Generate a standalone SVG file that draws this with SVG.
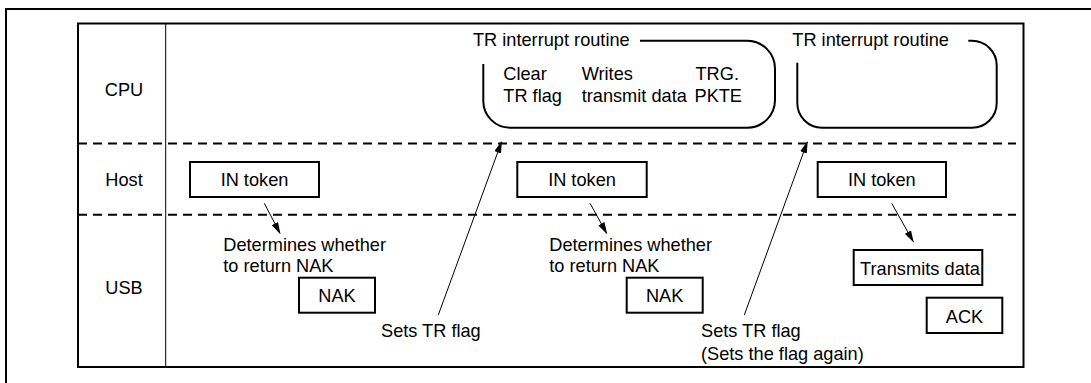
<svg xmlns="http://www.w3.org/2000/svg" width="1091" height="383" viewBox="0 0 1091 383">
<style>
text{font-family:"Liberation Sans",Arial,sans-serif;font-size:18.2px;fill:#000}
.c{text-anchor:middle}
.box{fill:#fff;stroke:#000;stroke-width:2}
.br{fill:none;stroke:#000;stroke-width:2}
.dash{stroke:#000;stroke-width:2;stroke-dasharray:9 6}
.ar{stroke:#000;stroke-width:1;fill:none;marker-end:url(#ah)}
</style>
<defs>
<marker id="ah" markerWidth="12" markerHeight="7" refX="11" refY="3.5" orient="auto" markerUnits="userSpaceOnUse">
<path d="M0,0 L12,3.5 L0,7 Z" fill="#000"/>
</marker>
</defs>
<rect width="1091" height="383" fill="#fff"/>
<g id="frame">
<rect x="6" y="9" width="1100" height="400" fill="none" stroke="#000" stroke-width="2"/>
<rect x="78" y="23.5" width="945.5" height="343.5" fill="none" stroke="#000" stroke-width="2"/>
<line x1="165.7" y1="23.5" x2="165.7" y2="367" stroke="#000" stroke-width="1"/>
<line class="dash" x1="78" y1="143.5" x2="1016" y2="143.5"/>
<line class="dash" x1="78" y1="214.7" x2="1016" y2="214.7"/>
</g>
<g id="lanes">
<text class="c" x="124" y="96">CPU</text>
<text class="c" x="124" y="186">Host</text>
<text class="c" x="124" y="294">USB</text>
</g>
<g id="tr1">
<text x="473" y="46">TR interrupt routine</text>
<path class="br" d="M640,40.7 H747 A28,28 0 0 1 775,68.7 V100 A27.7,27.7 0 0 1 747.3,127.7 H510 A26.7,26.7 0 0 1 483.3,101 V64"/>
<text x="503.3" y="80">Clear</text>
<text x="503.3" y="102">TR flag</text>
<text x="581.7" y="80">Writes</text>
<text x="581.7" y="102">transmit data</text>
<text x="695.5" y="80">TRG.</text>
<text x="694.5" y="102">PKTE</text>
</g>
<g id="tr2">
<text x="792.3" y="46">TR interrupt routine</text>
<path class="br" d="M968.3,40.7 H972 A24.7,24.7 0 0 1 996.7,65.4 V103 A24.7,24.7 0 0 1 972,127.7 H822 A24.7,24.7 0 0 1 797.3,103 V62.7"/>
</g>
<g id="in1"><rect class="box" x="190" y="162" width="129" height="35"/><text class="c" x="254.5" y="186">IN token</text></g>
<g id="in2"><rect class="box" x="517.3" y="162" width="129.4" height="35"/><text class="c" x="582" y="186">IN token</text></g>
<g id="in3"><rect class="box" x="817.7" y="162" width="128.3" height="35"/><text class="c" x="881.8" y="186">IN token</text></g>
<g id="det1"><text x="223.3" y="251">Determines whether</text><text x="223.3" y="272">to return NAK</text></g>
<g id="det2"><text x="549.3" y="251">Determines whether</text><text x="549.3" y="272">to return NAK</text></g>
<g id="nak1"><rect class="box" x="299" y="277.7" width="76" height="35"/><text class="c" x="337" y="302">NAK</text></g>
<g id="nak2"><rect class="box" x="626.7" y="277.7" width="76" height="35"/><text class="c" x="664.7" y="302">NAK</text></g>
<g id="txd"><rect class="box" x="853.7" y="250" width="128.6" height="35"/><text x="860" y="275" textLength="120" lengthAdjust="spacingAndGlyphs">Transmits data</text></g>
<g id="ack"><rect class="box" x="926.7" y="297.7" width="75.6" height="35.3"/><text class="c" x="964.5" y="323">ACK</text></g>
<g id="set1"><text x="381" y="337">Sets TR flag</text></g>
<g id="set2"><text x="701" y="337">Sets TR flag</text><text x="701" y="360">(Sets the flag again)</text></g>
<g id="connectors">
<line class="ar" x1="264.3" y1="203.3" x2="280" y2="233.3"/>
<line class="ar" x1="590" y1="203.3" x2="606.7" y2="233.3"/>
<line class="ar" x1="891.7" y1="203.3" x2="913.3" y2="241.7"/>
<line class="ar" x1="438.3" y1="315" x2="501.5" y2="142"/>
<line class="ar" x1="744.3" y1="315" x2="807.3" y2="142"/>
</g>
</svg>
